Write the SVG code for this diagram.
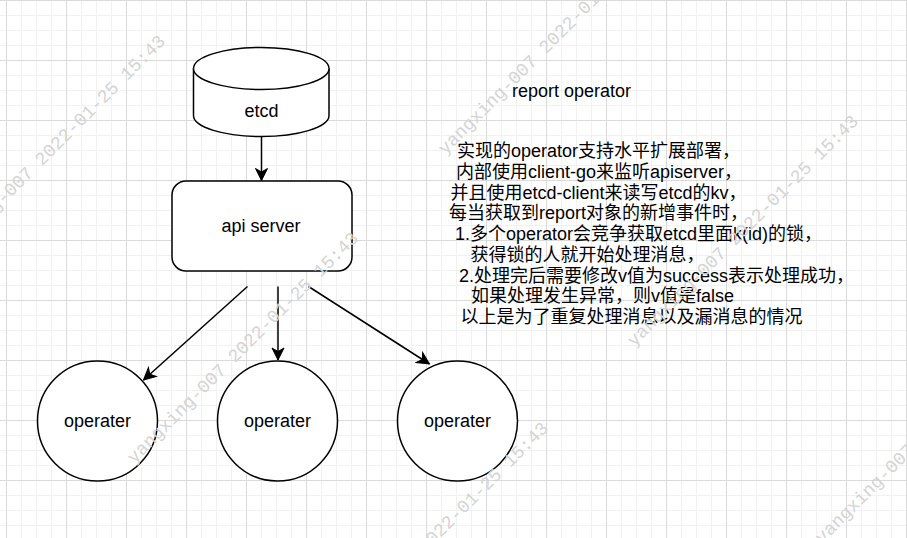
<svg xmlns="http://www.w3.org/2000/svg" width="907" height="538" viewBox="0 0 907 538">
  <style>
    .shape { fill: #ffffff; stroke: #000000; stroke-width: 1.5; }
    .lbl { font-family: "Liberation Sans", Arial, "Noto Sans CJK SC", sans-serif; font-size: 18px; fill: #000000; }
    .mid { text-anchor: middle; }
    .edge { fill: none; stroke: #000000; stroke-width: 1.5; }
    .wm { font-family: "Liberation Mono", "DejaVu Sans Mono", monospace; font-size: 18.3px; fill: #d4d4d4; }
  </style>
  <defs>
    <pattern id="grid" width="60" height="60" patternUnits="userSpaceOnUse" x="6" y="0">
      <path d="M15.5,0V60M30.5,0V60M45.5,0V60M0,15.5H60M0,30.5H60M0,45.5H60" stroke="#f1f1f1" stroke-width="1" fill="none"/>
      <path d="M0.5,0V60M0,0.5H60" stroke="#dadada" stroke-width="1" fill="none"/>
    </pattern>
    <marker id="arrow" markerUnits="userSpaceOnUse" viewBox="-13 -7 14 14" markerWidth="14" markerHeight="14" refX="0" refY="0" orient="auto">
      <path d="M0,0 L-12,-6 L-8.5,0 L-12,6 Z" fill="#000000" stroke="#000000" stroke-width="1" stroke-linejoin="miter"/>
    </marker>
  </defs>

  <rect x="0" y="0" width="907" height="538" fill="#ffffff"/>
  <rect x="0" y="0" width="907" height="538" fill="url(#grid)"/>

  <g id="connectors">
    <line class="edge" x1="261.5" y1="137" x2="261.5" y2="180.5" marker-end="url(#arrow)"/>
    <line class="edge" x1="247.5" y1="286.5" x2="143.5" y2="380" marker-end="url(#arrow)"/>
    <line class="edge" x1="278" y1="286.5" x2="278" y2="360" marker-end="url(#arrow)"/>
    <line class="edge" x1="308.5" y1="286.5" x2="429.5" y2="364" marker-end="url(#arrow)"/>
  </g>

  <g id="etcd">
    <path class="shape" d="M193.5,68.5 A67.75,21 0 0 1 329,68.5 L329,115.5 A67.75,21 0 0 1 193.5,115.5 Z"/>
    <path class="shape" fill="none" d="M193.5,68.5 A67.75,21 0 0 0 329,68.5"/>
    <text class="lbl mid" x="261.5" y="117">etcd</text>
  </g>

  <g id="api-server">
    <rect class="shape" x="172" y="181" width="180" height="90" rx="14" ry="14"/>
    <text class="lbl mid" x="261" y="232">api server</text>
  </g>

  <g id="operater-1">
    <circle class="shape" cx="97.5" cy="421" r="60"/>
    <text class="lbl mid" x="97.5" y="427">operater</text>
  </g>
  <g id="operater-2">
    <circle class="shape" cx="277.5" cy="421" r="60"/>
    <text class="lbl mid" x="277.5" y="427">operater</text>
  </g>
  <g id="operater-3">
    <circle class="shape" cx="457.5" cy="421" r="60"/>
    <text class="lbl mid" x="457.5" y="427">operater</text>
  </g>

  <g id="title">
    <text class="lbl" x="512" y="97">report operator</text>
  </g>

  <g id="description">
    <text class="lbl" x="457" y="157.3">实现的operator支持水平扩展部署，</text>
    <text class="lbl" x="456" y="178">内部使用client-go来监听apiserver，</text>
    <text class="lbl" x="450.5" y="198.7">并且使用etcd-client来读写etcd的kv，</text>
    <text class="lbl" x="449" y="219.4">每当获取到report对象的新增事件时，</text>
    <text class="lbl" x="455" y="240.1">1.多个operator会竞争获取etcd里面k(id)的锁，</text>
    <text class="lbl" x="470.5" y="260.8">获得锁的人就开始处理消息，</text>
    <text class="lbl" x="459" y="281.5">2.处理完后需要修改v值为success表示处理成功，</text>
    <text class="lbl" x="471" y="302.2">如果处理发生异常，则v值是false</text>
    <text class="lbl" x="460.5" y="322.9">以上是为了重复处理消息以及漏消息的情况</text>
  </g>

  <g id="watermarks">
    <text class="wm" transform="translate(-63,263) rotate(-45)" x="0" y="6">yangxing-007 2022-01-25 15:43</text>
    <text class="wm" transform="translate(130,460) rotate(-45)" x="0" y="6">yangxing-007 2022-01-25 15:43</text>
    <text class="wm" transform="translate(320,650) rotate(-45)" x="0" y="6">yangxing-007 2022-01-25 15:43</text>
    <text class="wm" transform="translate(441,151) rotate(-45)" x="0" y="6">yangxing-007 2022-01-25 15:43</text>
    <text class="wm" transform="translate(630,343) rotate(-45)" x="0" y="6">yangxing-007 2022-01-25 15:43</text>
    <text class="wm" transform="translate(818,540) rotate(-45)" x="0" y="6">yangxing-007 2022-01-25 15:43</text>
  </g>
</svg>
